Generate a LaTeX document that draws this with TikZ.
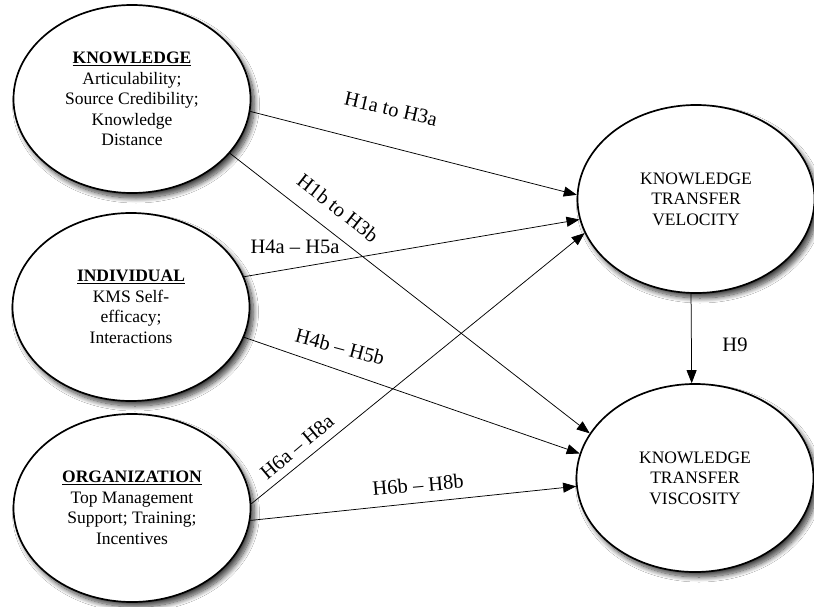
\documentclass[tikz,border=0pt]{standalone}
\usepackage{fontspec}
\setmainfont{Liberation Serif}
\usetikzlibrary{arrows.meta,shapes.geometric,shadows.blur}
\tikzset{
  construct/.style={ellipse, draw=black, line width=1.7pt, fill=white,
    minimum width=237pt, minimum height=188pt, inner sep=0pt, align=center,
    font=\fontsize{17.5}{20.5}\selectfont,
    blur shadow={shadow xshift=4pt, shadow yshift=-5pt, shadow blur steps=12, shadow blur radius=5pt, shadow opacity=75}},
  link/.style={line width=0.75pt, -{Triangle[length=13pt,width=10pt]}},
  hyp/.style={font=\fontsize{20.5}{24}\selectfont, inner sep=1pt}
}
\newcommand{\ulhead}[1]{\underline{\textbf{#1}}}
\begin{document}
\begin{tikzpicture}[x=1pt,y=-1pt]
\useasboundingbox (0,0) rectangle (814,607);
\fill[white] (0,0) rectangle (814,607);
% left constructs
\node[construct] (know) at (132,99) {\ulhead{KNOWLEDGE}\\Articulability;\\Source Credibility;\\Knowledge\\Distance};
\node[construct] (indiv) at (131,307) {\ulhead{INDIVIDUAL}\\KMS Self-\\efficacy;\\Interactions};
\node[construct] (org) at (132,508) {\ulhead{ORGANIZATION}\\Top Management\\Support; Training;\\Incentives};
% right constructs
\node[construct] (vel) at (696,199) {KNOWLEDGE\\TRANSFER\\VELOCITY};
\node[construct] (visc) at (695,478) {KNOWLEDGE\\TRANSFER\\VISCOSITY};
% connectors
\draw[link] (know.-6) -- (vel.178.5);
\draw[link] (know.-29) -- (visc.157.8);
\draw[link] (indiv.15) -- (vel.190.5);
\draw[link] (indiv.-15) -- (visc.168.9);
\draw[link] (org.2.4) -- (vel.197.8);
\draw[link] (org.-6.6) -- (visc.184.5);
\draw[link] (vel.267) -- (visc.92);
% labels
\node[hyp, rotate=-13] (l1a) at (391,109) {H1a to H3a};
\node[hyp, rotate=-38] (l1b) at (338,208) {H1b to H3b};
\node[hyp] (l4a) at (295,247) {H4a – H5a};
\node[hyp, rotate=-15] (l4b) at (340,347) {H4b – H5b};
\node[hyp, rotate=40] (l6a) at (297,447) {H6a – H8a};
\node[hyp, rotate=5] (l6b) at (418,485) {H6b – H8b};
\node[hyp] (l9) at (735,345) {H9};
\end{tikzpicture}
\end{document}
